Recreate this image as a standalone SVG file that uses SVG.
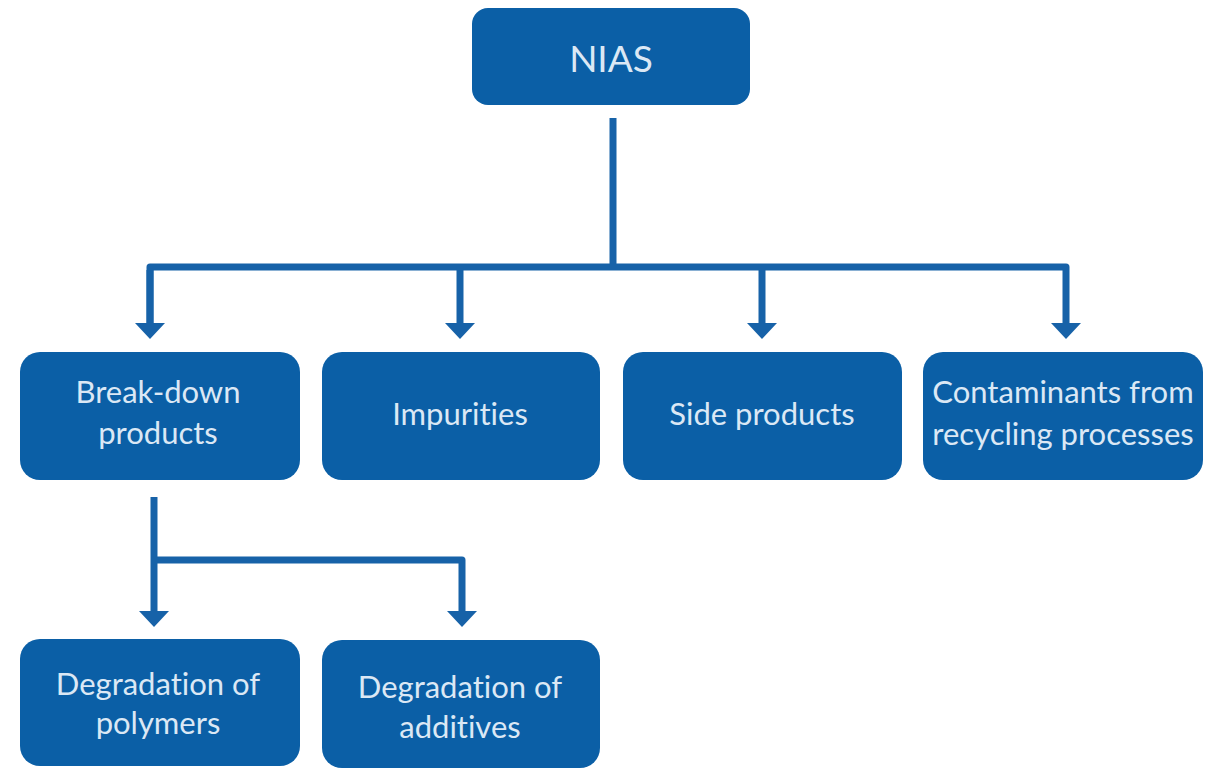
<svg xmlns="http://www.w3.org/2000/svg" width="1209" height="769" viewBox="0 0 1209 769">
<style>
.box{fill:#0b5fa6;}
.lbl{font-family:Lato,"Open Sans","Liberation Sans",sans-serif;font-size:31px;fill:#dbe8f5;text-anchor:middle;font-variant-ligatures:none;}
.big{font-size:37px;}
.con{fill:none;stroke:#1762a8;stroke-width:7;stroke-linejoin:round;}
</style>
<defs>
<marker id="ah" markerUnits="userSpaceOnUse" viewBox="0 0 16 30" refX="0" refY="15" markerWidth="16" markerHeight="30" orient="auto">
<path d="M0,0 L16,15 L0,30 z" fill="#1762a8"/>
</marker>
</defs>
<rect width="1209" height="769" fill="#ffffff"/>
<g id="connectors">
<path class="con" d="M613,118 V267"/>
<path class="con" d="M150,323 V267 H1066 V323" marker-end="url(#ah)"/>
<path class="con" d="M150,270 V323" marker-end="url(#ah)"/>
<path class="con" d="M460,267 V323" marker-end="url(#ah)"/>
<path class="con" d="M762,267 V323" marker-end="url(#ah)"/>
<path class="con" d="M154,497 V611" marker-end="url(#ah)"/>
<path class="con" d="M154,560 H462 V611" marker-end="url(#ah)"/>
</g>
<g id="nias">
<rect class="box" x="472" y="8" width="278" height="97" rx="16"/>
<text class="lbl big" x="611" y="72">NIAS</text>
</g>
<g id="breakdown">
<rect class="box" x="20" y="352" width="280" height="128" rx="20"/>
<text class="lbl" x="158" y="403">Break-down</text>
<text class="lbl" x="158" y="444">products</text>
</g>
<g id="impurities">
<rect class="box" x="322" y="352" width="278" height="128" rx="20"/>
<text class="lbl" x="460" y="425">Impurities</text>
</g>
<g id="side">
<rect class="box" x="623" y="352" width="279" height="128" rx="20"/>
<text class="lbl" x="762" y="425">Side products</text>
</g>
<g id="contaminants">
<rect class="box" x="923" y="352" width="280" height="128" rx="20"/>
<text class="lbl" x="1063" y="403">Contaminants from</text>
<text class="lbl" x="1063" y="445">recycling processes</text>
</g>
<g id="polymers">
<rect class="box" x="20" y="639" width="280" height="127" rx="20"/>
<text class="lbl" x="158" y="695">Degradation of</text>
<text class="lbl" x="158" y="734">polymers</text>
</g>
<g id="additives">
<rect class="box" x="322" y="640" width="278" height="128" rx="20"/>
<text class="lbl" x="460" y="698">Degradation of</text>
<text class="lbl" x="460" y="738">additives</text>
</g>
</svg>
